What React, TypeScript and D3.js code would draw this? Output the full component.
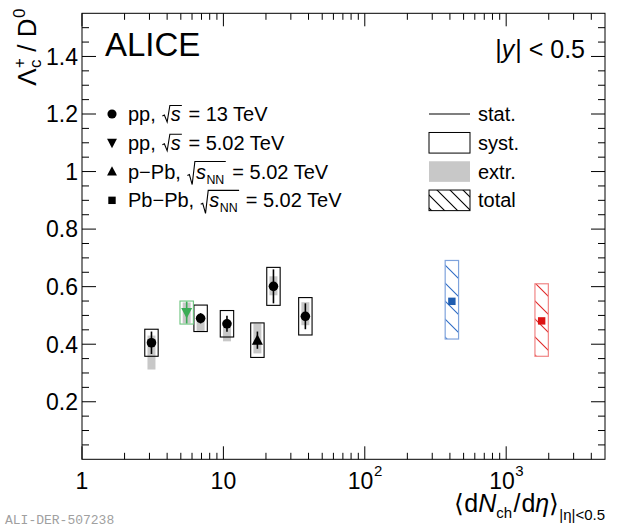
import React from "react";
import * as d3 from "d3";

// ---- data ----
const ppX = [3.1, 6.9, 10.6, 22.6, 38];
const ppY = [0.405, 0.49, 0.471, 0.601, 0.497];
const ppStat = [0.039, 0.018, 0.028, 0.059, 0.045];
const ppSyst = [0.047, 0.046, 0.046, 0.066, 0.065];
const ppExtrLo = [0.312, 0.445, 0.41, 0.57, 0.466];
const ppExtrHi = [0.43, 0.485, 0.46, 0.636, 0.546];

const pp5X = [5.5];
const pp5Y = [0.51];
const pp5Stat = [0.038];
const pp5Syst = [0.04];
const pp5ExtrLo = [0.472];
const pp5ExtrHi = [0.545];

const pPbX = [17.4];
const pPbY = [0.414];
const pPbStat = [0.03];
const pPbSyst = [0.06];
const pPbExtrLo = [0.368];
const pPbExtrHi = [0.472];

const PbPbX = [413, 1782];
const PbPbY = [0.549, 0.481];
const PbPbTotLo = [0.418, 0.358];
const PbPbTotHi = [0.691, 0.61];

const xTickLabels = ["1", "10", "10^2", "10^3"];
const xTickValues = [1, 10, 100, 1000];
const yTickValues = [0.2, 0.4, 0.6, 0.8, 1, 1.2, 1.4];
const yTickLabels = ["0.2", "0.4", "0.6", "0.8", "1", "1.2", "1.4"];

const FONT = '"Liberation Sans", Arial, Helvetica, sans-serif';

let _ctx: CanvasRenderingContext2D | null = null;
function tw(s: string, size: number, italic = false) {
  if (!_ctx) _ctx = document.createElement("canvas").getContext("2d");
  if (!_ctx) return s.length * size * 0.55;
  _ctx.font = `${italic ? "italic " : ""}${size}px "Liberation Sans"`;
  return _ctx.measureText(s).width;
}

const L = 82, R = 605, T = 13.3, B = 459.3;
const x = d3.scaleLog().domain([1, 5000]).range([L, R]);
const y = d3.scaleLinear().domain([0, 1.55]).range([B, T]);

const BOXW = 6.7; // half width of syst boxes in px
const EXW = 4; // half width of extr boxes

function SqrtRow({ x0, yb, prefix, nn, suffix, size }: any) {
  const w1 = tw(prefix, size);
  const rx = x0 + w1 + 1;
  const sx = rx + 8.5;
  const ws = tw("s", size, true);
  const subSize = size * 0.62;
  const wnn = nn ? tw("NN", subSize) : 0;
  const endOver = sx + ws + (nn ? wnn + 1 : 0) + 1;
  const top = nn ? yb - 17 : yb - 15.5;
  const bot = nn ? yb + 6 : yb + 1;
  const mid = nn ? yb - 4 : yb - 6;
  const sufX = endOver + 1;
  return (
    <g>
      <text x={x0} y={yb} fontSize={size} fontFamily={FONT}>{prefix}</text>
      <path d={`M${rx},${mid + 1}L${rx + 2},${mid}L${rx + 4.8},${bot}L${rx + 7.5},${top}L${endOver},${top}`} fill="none" stroke="black" strokeWidth={1.1} />
      <text x={sx} y={yb} fontSize={size} fontFamily={FONT} fontStyle="italic">s</text>
      {nn && <text x={sx + ws + 0.5} y={yb + 5} fontSize={subSize} fontFamily={FONT}>NN</text>}
      <text x={sufX} y={yb} fontSize={size} fontFamily={FONT} style={{ whiteSpace: "pre" }}>{suffix}</text>
    </g>
  );
}

function Marker({ type, cx, cy, color, s = 1 }: any) {
  if (type === "circle") return <circle cx={cx} cy={cy} r={4.8 * s} fill={color} />;
  if (type === "down") return <path d={`M${cx - 5.5 * s},${cy - 4.5 * s}L${cx + 5.5 * s},${cy - 4.5 * s}L${cx},${cy + 6 * s}Z`} fill={color} />;
  if (type === "up") return <path d={`M${cx - 5.5 * s},${cy + 4.5 * s}L${cx + 5.5 * s},${cy + 4.5 * s}L${cx},${cy - 6 * s}Z`} fill={color} />;
  return <rect x={cx - 3.7 * s} y={cy - 3.7 * s} width={7.4 * s} height={7.4 * s} fill={color} />;
}

function Series({ xs, ys, stat, syst, exLo, exHi, color, boxColor, marker, statColor }: any) {
  return (
    <g>
      {xs.map((xv: number, i: number) => {
        const cx = x(xv);
        return (
          <g key={i}>
            <rect x={cx - EXW} y={y(exHi[i])} width={2 * EXW} height={y(exLo[i]) - y(exHi[i])} fill="#c8c8c8" />
            <rect x={cx - BOXW} y={y(ys[i] + syst[i])} width={2 * BOXW} height={y(ys[i] - syst[i]) - y(ys[i] + syst[i])} fill="none" stroke={boxColor} strokeWidth={1.1} />
            <line x1={cx} x2={cx} y1={y(ys[i] + stat[i])} y2={y(ys[i] - stat[i])} stroke={statColor} strokeWidth={1.6} />
            <Marker type={marker} cx={cx} cy={y(ys[i])} color={color} />
          </g>
        );
      })}
    </g>
  );
}

export default function App() {
  const xMinor: number[] = [];
  for (let e = 0; e < 4; e++) for (let k = 2; k <= 9; k++) { const v = k * Math.pow(10, e); if (v < 5000) xMinor.push(v); }
  const yMinor: number[] = d3.range(0.05, 1.55, 0.05).filter((v) => Math.abs(v / 0.2 - Math.round(v / 0.2)) > 0.01);
  const H = 18;
  const hatch = (id: string, color: string, h: number) => (
    <pattern id={id} patternUnits="userSpaceOnUse" width={h} height={h}>
      <path d={`M0,0L${h},${h}M-1,${h - 1}L1,${h + 1}M${h - 1},-1L${h + 1},1`} stroke={color} strokeWidth={1.1} />
    </pattern>
  );
  // y title pieces
  const ts = 26, tsub = 17;
  const wL = tw("Λ", ts), wc = tw("c", tsub), wsl = tw(" / D", ts), w0 = tw("0", tsub);
  const Wt = wL + wc + 1 + wsl + w0;
  const leftRows = [1.2, 1.1, 1.0, 0.9];
  const rightRows = [1.2, 1.1, 1.0, 0.9];
  return (
    <svg width={620} height={530} style={{ position: "absolute", left: 0, top: 0, background: "white" }} fontFamily={FONT}>
      <defs>
        {hatch("hb", "#2f6cc4", H)}
        {hatch("hr", "#e02828", H)}
        {hatch("hk", "#000", 13)}
      </defs>
      <rect x={0} y={0} width={620} height={530} fill="white" />
      {/* frame */}
      <rect x={L} y={T} width={R - L} height={B - T} fill="none" stroke="black" strokeWidth={1} />
      {/* x ticks */}
      {xTickValues.map((v) => (
        <g key={"xm" + v}>
          <line x1={x(v)} x2={x(v)} y1={B} y2={B - 13} stroke="black" />
          <line x1={x(v)} x2={x(v)} y1={T} y2={T + 13} stroke="black" />
        </g>
      ))}
      {xMinor.map((v) => (
        <g key={"xn" + v}>
          <line x1={x(v)} x2={x(v)} y1={B} y2={B - 6.5} stroke="black" />
          <line x1={x(v)} x2={x(v)} y1={T} y2={T + 6.5} stroke="black" />
        </g>
      ))}
      {/* y ticks */}
      {yTickValues.map((v) => (
        <g key={"ym" + v}>
          <line x1={L} x2={L + 14} y1={y(v)} y2={y(v)} stroke="black" />
          <line x1={R} x2={R - 14} y1={y(v)} y2={y(v)} stroke="black" />
        </g>
      ))}
      {yMinor.map((v) => (
        <g key={"yn" + v}>
          <line x1={L} x2={L + 7} y1={y(v)} y2={y(v)} stroke="black" />
          <line x1={R} x2={R - 7} y1={y(v)} y2={y(v)} stroke="black" />
        </g>
      ))}
      {/* y labels */}
      {yTickValues.map((v, i) => (
        <text key={"yl" + v} x={L - 4} y={y(v) + 8.3} fontSize={23} textAnchor="end">{yTickLabels[i]}</text>
      ))}
      {/* x labels */}
      {xTickValues.map((v, i) => {
        const lab = xTickLabels[i];
        if (lab.includes("^")) {
          const [base, ex] = lab.split("^");
          const wb = tw(base, 23), we = tw(ex, 15);
          const x0 = x(v) - (wb + we) / 2;
          return (
            <g key={"xl" + v}>
              <text x={x0} y={489} fontSize={23}>{base}</text>
              <text x={x0 + wb + 0.5} y={476} fontSize={15}>{ex}</text>
            </g>
          );
        }
        return <text key={"xl" + v} x={x(v)} y={489} fontSize={23} textAnchor="middle">{lab}</text>;
      })}
      {/* x title */}
      {(() => {
        const s1 = 25, s2 = 15;
        const parts = [
          { t: "⟨d", size: s1, it: false, dy: 0 },
          { t: "N", size: s1, it: true, dy: 0 },
          { t: "ch", size: s2, it: false, dy: 6 },
          { t: "/", size: s1, it: false, dy: 0 },
          { t: "d", size: s1, it: false, dy: 0 },
          { t: "η", size: s1, it: true, dy: 0 },
          { t: "⟩", size: s1, it: false, dy: 0 },
          { t: "|η|<0.5", size: s2, it: false, dy: 8 },
        ];
        const widths = parts.map((p) => tw(p.t, p.size, p.it) + (p.t === "ch" ? 1.5 : 0) + (p.t === "/" ? 1 : 0));
        const total = d3.sum(widths);
        let cur = R - total;
        return parts.map((p, i) => {
          const el = (
            <text key={"xt" + i} x={cur} y={512 + p.dy} fontSize={p.size} fontStyle={p.it ? "italic" : "normal"}>{p.t}</text>
          );
          cur += widths[i];
          return el;
        });
      })()}
      {/* y title */}
      <g transform={`translate(36,9) rotate(-90)`}>
        <text x={-Wt} y={0} fontSize={ts}>Λ</text>
        <text x={-Wt + wL + 0.5} y={-11} fontSize={tsub}>+</text>
        <text x={-Wt + wL + 0.5} y={5} fontSize={tsub}>c</text>
        <text x={-Wt + wL + wc + 1} y={0} fontSize={ts} style={{ whiteSpace: "pre" }}> / D</text>
        <text x={-Wt + wL + wc + 1 + wsl + 0.5} y={-11} fontSize={tsub}>0</text>
      </g>
      {/* texts */}
      <text x={105} y={56} fontSize={33}>ALICE</text>
      {(() => {
        const s = 25;
        const w1 = tw("|", s), w2 = tw("y", s, true), w3 = tw("| < 0.5", s);
        const x0 = 585 - (w1 + w2 + w3 + 1);
        return (
          <g>
            <text x={x0} y={58} fontSize={s}>|</text>
            <text x={x0 + w1} y={58} fontSize={s} fontStyle="italic">y</text>
            <text x={x0 + w1 + w2 + 1} y={58} fontSize={s} style={{ whiteSpace: "pre" }}>| &lt; 0.5</text>
          </g>
        );
      })()}
      {/* data */}
      <Series xs={ppX} ys={ppY} stat={ppStat} syst={ppSyst} exLo={ppExtrLo} exHi={ppExtrHi} color="black" boxColor="black" statColor="black" marker="circle" />
      <Series xs={pp5X} ys={pp5Y} stat={pp5Stat} syst={pp5Syst} exLo={pp5ExtrLo} exHi={pp5ExtrHi} color="#3aac55" boxColor="#6cc47f" statColor="#3aac55" marker="down" />
      <Series xs={pPbX} ys={pPbY} stat={pPbStat} syst={pPbSyst} exLo={pPbExtrLo} exHi={pPbExtrHi} color="black" boxColor="black" statColor="black" marker="up" />
      {PbPbX.map((xv, i) => {
        const cx = x(xv);
        const blue = i === 0;
        return (
          <g key={"pb" + i}>
            <rect x={cx - BOXW} y={y(PbPbTotHi[i])} width={2 * BOXW} height={y(PbPbTotLo[i]) - y(PbPbTotHi[i])} fill={blue ? "url(#hb)" : "url(#hr)"} stroke={blue ? "#7fa3dc" : "#f08585"} strokeWidth={1.2} />
            <Marker type="square" cx={cx} cy={y(PbPbY[i])} color={blue ? "#1f5db0" : "#dc1414"} />
          </g>
        );
      })}
      {/* left legend */}
      <Marker type="circle" cx={112} cy={y(leftRows[0])} color="black" s={0.95} />
      <Marker type="down" cx={112} cy={y(leftRows[1])} color="black" s={0.9} />
      <Marker type="up" cx={112} cy={y(leftRows[2])} color="black" s={0.9} />
      <Marker type="square" cx={112} cy={y(leftRows[3])} color="black" s={1} />
      <SqrtRow x0={128} yb={y(leftRows[0]) + 7} prefix="pp, " suffix=" = 13 TeV" size={20} />
      <SqrtRow x0={128} yb={y(leftRows[1]) + 7} prefix="pp, " suffix=" = 5.02 TeV" size={20} />
      <SqrtRow x0={128} yb={y(leftRows[2]) + 7} prefix="p−Pb, " suffix=" = 5.02 TeV" nn size={20} />
      <SqrtRow x0={128} yb={y(leftRows[3]) + 7} prefix="Pb−Pb, " suffix=" = 5.02 TeV" nn size={20} />
      {/* right legend */}
      <line x1={429} x2={470} y1={y(rightRows[0])} y2={y(rightRows[0])} stroke="black" strokeWidth={1.2} />
      <rect x={429} y={y(rightRows[1]) - 10.3} width={41} height={20.6} fill="none" stroke="black" strokeWidth={1} />
      <rect x={429} y={y(rightRows[2]) - 10.3} width={41} height={20.6} fill="#c8c8c8" />
      <rect x={429} y={y(rightRows[3]) - 10.3} width={41} height={20.6} fill="url(#hk)" stroke="black" strokeWidth={1} />
      {["stat.", "syst.", "extr.", "total"].map((t, i) => (
        <text key={t} x={478} y={y(rightRows[i]) + 7} fontSize={20}>{t}</text>
      ))}
      {/* watermark */}
      <text x={5} y={524} fontSize={13} fontFamily='"Liberation Mono", "DejaVu Sans Mono", monospace' fill="#a0a0a0">ALI-DER-507238</text>
    </svg>
  );
}
